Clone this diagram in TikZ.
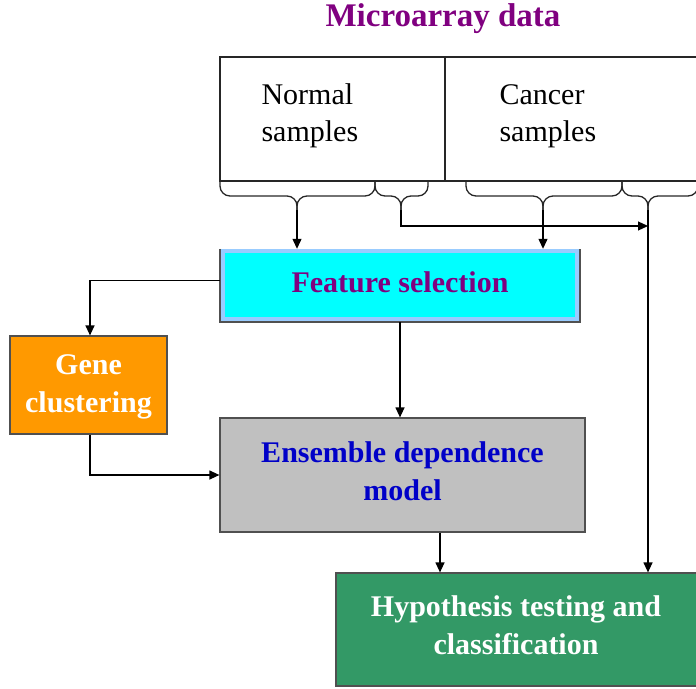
\documentclass[tikz,border=0pt]{standalone}
\usepackage{fontspec}
\setmainfont{Liberation Serif}
\usetikzlibrary{arrows.meta,calc}
\definecolor{plum}{HTML}{800080}
\definecolor{deepblue}{HTML}{0000C8}
\definecolor{aqua}{HTML}{00FFFF}
\definecolor{paleblue}{HTML}{99CCFF}
\definecolor{silver}{HTML}{C0C0C0}
\definecolor{amber}{HTML}{FF9900}
\definecolor{seagreen}{HTML}{339966}
\definecolor{edge}{HTML}{505050}
\begin{document}
\begin{tikzpicture}[x=1pt,y=-1pt,
  plain/.style={line width=1.2pt, draw=black},
  conn/.style={plain, -{Triangle[length=10pt,width=9pt]}},
  bracepath/.style={line width=1.3pt, draw=black!85, rounded corners=10pt},
  boxtext/.style={font=\fontsize{30}{38}\selectfont\bfseries, align=center},
  stage/.style={rectangle, inner sep=0pt, line width=1.2pt, draw=edge},
]
\useasboundingbox (0,0) rectangle (696,688);
\clip (0,0) rectangle (696,688);

% title
\node[font=\fontsize{33}{40}\selectfont\bfseries, text=plum] (title) at (443,19) {Microarray data};

% sample table
\node[rectangle, draw=black!85, line width=1.2pt, minimum width=477pt, minimum height=124pt, inner sep=0pt] (data) at (458.5,119) {};
\draw[line width=1.2pt, black!85] (445,57) -- (445,181);
\node[font=\fontsize{30}{37}\selectfont, align=left, anchor=west] (normal) at (258,116) {Normal\\samples};
\node[font=\fontsize{30}{37}\selectfont, align=left, anchor=west] (cancer) at (496,116) {Cancer\\samples};

% braces under the table
\foreach \a/\b/\t/\n in {220/375/297/b1, 375/428/401/b2, 466/622/543/b3, 622/698/648/b4} {
  \draw[bracepath] (\a,181) -- (\a,196) -- (\t,196) -- (\t,212);
  \draw[bracepath] (\b,181) -- (\b,196) -- (\t,196) -- (\t,212);
  \coordinate (\n) at (\t,210);
}

% processing stages
\node[rectangle, inner sep=0pt, minimum width=360pt, minimum height=73pt,
      fill=paleblue] (fs) at (400,285.5) {};
\fill[aqua] ($(fs.north west)+(5,4)$) rectangle ($(fs.south east)+(-5,-5)$);
\draw[line width=1.6pt, edge] (fs.north west) -- (fs.south west) -- (fs.south east) -- (fs.north east);
\node[boxtext, text=plum] (fstext) at (400,282) {Feature selection};

\node[stage, fill=amber, minimum width=157pt, minimum height=98pt] (gene) at (88.5,385) {};
\node[boxtext, text=white] (genetext) at (88.5,387) {Gene\\clustering};
\node[stage, fill=silver, minimum width=365pt, minimum height=114pt] (ens) at (402.5,475) {};
\node[boxtext, text=deepblue] (enstext) at (402.5,471) {Ensemble dependence\\model};
\node[stage, fill=seagreen, minimum width=364pt, minimum height=113pt] (hyp) at (518,629.5) {};
\node[boxtext, text=white] (hyptext) at (516,625) {Hypothesis testing and\\classification};

% connectors
\coordinate (join) at (648,226);
\draw[conn] (b1) -- (b1 |- fs.north);
\draw[conn] (b3) -- (b3 |- fs.north);
\draw[conn] (b2) |- (join);
\draw[conn] (b4) -- (b4 |- hyp.north);
\draw[conn] ([yshift=5pt]fs.west) -| ([xshift=1.5pt]gene.north);
\draw[conn] (fs.south) -- (fs.south |- ens.north);
\draw[conn] ([xshift=1.5pt]gene.south) |- (ens.west);
\coordinate (ensout) at ($(ens.south)+(37.5,0)$);
\draw[conn] (ensout) -- (ensout |- hyp.north);
\end{tikzpicture}
\end{document}
